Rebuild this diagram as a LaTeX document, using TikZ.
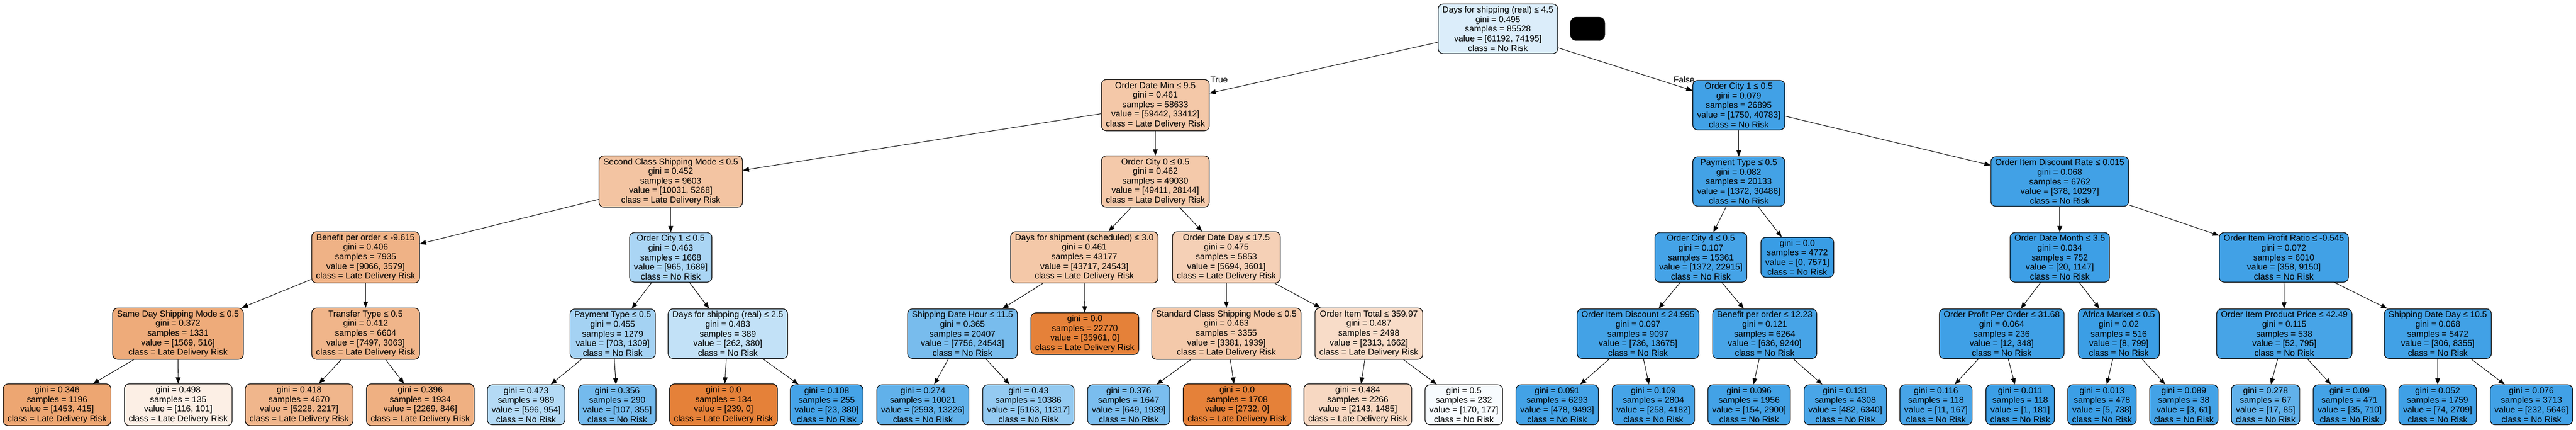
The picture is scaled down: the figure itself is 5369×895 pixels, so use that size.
\documentclass[tikz,border=0pt]{standalone}
\usepackage{fontspec}
\setmainfont{Liberation Sans}
\usetikzlibrary{arrows.meta}
\definecolor{cO}{RGB}{229,129,57}
\definecolor{cB}{RGB}{57,157,229}
\tikzset{
  tn/.style={rectangle, rounded corners=10pt, draw=black, line width=1.3pt, align=center,
    inner xsep=9pt, inner ysep=5pt, font=\fontsize{18}{20}\selectfont},
  ed/.style={-{Triangle[length=13pt,width=10pt]}, line width=1.1pt},
  lbl/.style={font=\fontsize{18}{20}\selectfont, inner sep=0pt},
}
\begin{document}
\begin{tikzpicture}[x=1pt,y=-1pt]
\useasboundingbox (0,0) rectangle (5369,895);
% level 0
\node[tn, fill=cB!18] (root) at (3122,60) {Days for shipping (real) ≤ 4.5\\gini = 0.495\\samples = 85528\\value = [61192, 74195]\\class = No Risk};
\node[rectangle, rounded corners=12pt, fill=black, draw=black, minimum width=72pt, minimum height=49pt, inner sep=0pt] (blk) at (3309,60) {};
% level 1
\node[tn, fill=cO!44] (n1) at (2408,219) {Order Date Min ≤ 9.5\\gini = 0.461\\samples = 58633\\value = [59442, 33412]\\class = Late Delivery Risk};
\node[tn, fill=cB!96] (n2) at (3624,219) {Order City 1 ≤ 0.5\\gini = 0.079\\samples = 26895\\value = [1750, 40783]\\class = No Risk};
% level 2
\node[tn, fill=cO!47] (n3) at (1398,378) {Second Class Shipping Mode ≤ 0.5\\gini = 0.452\\samples = 9603\\value = [10031, 5268]\\class = Late Delivery Risk};
\node[tn, fill=cO!43] (n4) at (2408,378) {Order City 0 ≤ 0.5\\gini = 0.462\\samples = 49030\\value = [49411, 28144]\\class = Late Delivery Risk};
\node[tn, fill=cB!95] (n5) at (3624,378) {Payment Type ≤ 0.5\\gini = 0.082\\samples = 20133\\value = [1372, 30486]\\class = No Risk};
\node[tn, fill=cB!96] (n6) at (4293,378) {Order Item Discount Rate ≤ 0.015\\gini = 0.068\\samples = 6762\\value = [378, 10297]\\class = No Risk};
% level 3
\node[tn, fill=cO!61] (n7) at (762,536) {Benefit per order ≤ -9.615\\gini = 0.406\\samples = 7935\\value = [9066, 3579]\\class = Late Delivery Risk};
\node[tn, fill=cB!43] (n8) at (1398,536) {Order City 1 ≤ 0.5\\gini = 0.463\\samples = 1668\\value = [965, 1689]\\class = No Risk};
\node[tn, fill=cO!44] (n9) at (2260,536) {Days for shipment (scheduled) ≤ 3.0\\gini = 0.461\\samples = 43177\\value = [43717, 24543]\\class = Late Delivery Risk};
\node[tn, fill=cO!37] (n10) at (2556,536) {Order Date Day ≤ 17.5\\gini = 0.475\\samples = 5853\\value = [5694, 3601]\\class = Late Delivery Risk};
\node[tn, fill=cB!94] (n11) at (3545,536) {Order City 4 ≤ 0.5\\gini = 0.107\\samples = 15361\\value = [1372, 22915]\\class = No Risk};
\node[tn, fill=cB!100] (n12) at (3746,536) {gini = 0.0\\samples = 4772\\value = [0, 7571]\\class = No Risk};
\node[tn, fill=cB!98] (n13) at (4293,536) {Order Date Month ≤ 3.5\\gini = 0.034\\samples = 752\\value = [20, 1147]\\class = No Risk};
\node[tn, fill=cB!96] (n14) at (4760,536) {Order Item Profit Ratio ≤ -0.545\\gini = 0.072\\samples = 6010\\value = [358, 9150]\\class = No Risk};
% level 4
\node[tn, fill=cO!67] (n15) at (371,695) {Same Day Shipping Mode ≤ 0.5\\gini = 0.372\\samples = 1331\\value = [1569, 516]\\class = Late Delivery Risk};
\node[tn, fill=cO!59] (n16) at (762,695) {Transfer Type ≤ 0.5\\gini = 0.412\\samples = 6604\\value = [7497, 3063]\\class = Late Delivery Risk};
\node[tn, fill=cB!46] (n17) at (1277,695) {Payment Type ≤ 0.5\\gini = 0.455\\samples = 1279\\value = [703, 1309]\\class = No Risk};
\node[tn, fill=cB!31] (n18) at (1517,695) {Days for shipping (real) ≤ 2.5\\gini = 0.483\\samples = 389\\value = [262, 380]\\class = No Risk};
\node[tn, fill=cB!68] (n19) at (2006,695) {Shipping Date Hour ≤ 11.5\\gini = 0.365\\samples = 20407\\value = [7756, 24543]\\class = No Risk};
\node[tn, fill=cO!100] (n20) at (2261,695) {gini = 0.0\\samples = 22770\\value = [35961, 0]\\class = Late Delivery Risk};
\node[tn, fill=cO!43] (n21) at (2556,695) {Standard Class Shipping Mode ≤ 0.5\\gini = 0.463\\samples = 3355\\value = [3381, 1939]\\class = Late Delivery Risk};
\node[tn, fill=cO!28] (n22) at (2853,695) {Order Item Total ≤ 359.97\\gini = 0.487\\samples = 2498\\value = [2313, 1662]\\class = Late Delivery Risk};
\node[tn, fill=cB!95] (n23) at (3414,695) {Order Item Discount ≤ 24.995\\gini = 0.097\\samples = 9097\\value = [736, 13675]\\class = No Risk};
\node[tn, fill=cB!93] (n24) at (3678,695) {Benefit per order ≤ 12.23\\gini = 0.121\\samples = 6264\\value = [636, 9240]\\class = No Risk};
\node[tn, fill=cB!97] (n25) at (4172,695) {Order Profit Per Order ≤ 31.68\\gini = 0.064\\samples = 236\\value = [12, 348]\\class = No Risk};
\node[tn, fill=cB!99] (n26) at (4416,695) {Africa Market ≤ 0.5\\gini = 0.02\\samples = 516\\value = [8, 799]\\class = No Risk};
\node[tn, fill=cB!93] (n27) at (4761,695) {Order Item Product Price ≤ 42.49\\gini = 0.115\\samples = 538\\value = [52, 795]\\class = No Risk};
\node[tn, fill=cB!96] (n28) at (5081,695) {Shipping Date Day ≤ 10.5\\gini = 0.068\\samples = 5472\\value = [306, 8355]\\class = No Risk};
% level 5
\node[tn, fill=cO!71] (l1) at (119,843) {gini = 0.346\\samples = 1196\\value = [1453, 415]\\class = Late Delivery Risk};
\node[tn, fill=cO!13] (l2) at (371.5,843) {gini = 0.498\\samples = 135\\value = [116, 101]\\class = Late Delivery Risk};
\node[tn, fill=cO!58] (l3) at (623.5,843) {gini = 0.418\\samples = 4670\\value = [5228, 2217]\\class = Late Delivery Risk};
\node[tn, fill=cO!63] (l4) at (876,843) {gini = 0.396\\samples = 1934\\value = [2269, 846]\\class = Late Delivery Risk};
\node[tn, fill=cB!38] (l5) at (1096.5,843) {gini = 0.473\\samples = 989\\value = [596, 954]\\class = No Risk};
\node[tn, fill=cB!70] (l6) at (1286.5,843) {gini = 0.356\\samples = 290\\value = [107, 355]\\class = No Risk};
\node[tn, fill=cO!100] (l7) at (1508,843) {gini = 0.0\\samples = 134\\value = [239, 0]\\class = Late Delivery Risk};
\node[tn, fill=cB!94] (l8) at (1723,843) {gini = 0.108\\samples = 255\\value = [23, 380]\\class = No Risk};
\node[tn, fill=cB!80] (l9) at (1923.5,843) {gini = 0.274\\samples = 10021\\value = [2593, 13226]\\class = No Risk};
\node[tn, fill=cB!54] (l10) at (2143.5,843) {gini = 0.43\\samples = 10386\\value = [5163, 11317]\\class = No Risk};
\node[tn, fill=cB!67] (l11) at (2352.5,843) {gini = 0.376\\samples = 1647\\value = [649, 1939]\\class = No Risk};
\node[tn, fill=cO!100] (l12) at (2578.5,843) {gini = 0.0\\samples = 1708\\value = [2732, 0]\\class = Late Delivery Risk};
\node[tn, fill=cO!31] (l13) at (2830,843) {gini = 0.484\\samples = 2266\\value = [2143, 1485]\\class = Late Delivery Risk};
\node[tn, fill=cB!4] (l14) at (3051,843) {gini = 0.5\\samples = 232\\value = [170, 177]\\class = No Risk};
\node[tn, fill=cB!95] (l15) at (3245.5,843) {gini = 0.091\\samples = 6293\\value = [478, 9493]\\class = No Risk};
\node[tn, fill=cB!94] (l16) at (3446,843) {gini = 0.109\\samples = 2804\\value = [258, 4182]\\class = No Risk};
\node[tn, fill=cB!95] (l17) at (3645.5,843) {gini = 0.096\\samples = 1956\\value = [154, 2900]\\class = No Risk};
\node[tn, fill=cB!92] (l18) at (3846,843) {gini = 0.131\\samples = 4308\\value = [482, 6340]\\class = No Risk};
\node[tn, fill=cB!93] (l19) at (4035,843) {gini = 0.116\\samples = 118\\value = [11, 167]\\class = No Risk};
\node[tn, fill=cB!99] (l20) at (4210.5,843) {gini = 0.011\\samples = 118\\value = [1, 181]\\class = No Risk};
\node[tn, fill=cB!99] (l21) at (4381,843) {gini = 0.013\\samples = 478\\value = [5, 738]\\class = No Risk};
\node[tn, fill=cB!95] (l22) at (4551.5,843) {gini = 0.089\\samples = 38\\value = [3, 61]\\class = No Risk};
\node[tn, fill=cB!80] (l23) at (4722,843) {gini = 0.278\\samples = 67\\value = [17, 85]\\class = No Risk};
\node[tn, fill=cB!95] (l24) at (4897,843) {gini = 0.09\\samples = 471\\value = [35, 710]\\class = No Risk};
\node[tn, fill=cB!97] (l25) at (5080.5,843) {gini = 0.052\\samples = 1759\\value = [74, 2709]\\class = No Risk};
\node[tn, fill=cB!96] (l26) at (5276,843) {gini = 0.076\\samples = 3713\\value = [232, 5646]\\class = No Risk};
% edge labels
\node[lbl] (tlab) at (2541,166) {True};
\node[lbl] (flab) at (3510,166) {False};
% edges
\draw[ed] (root) -- (n1);
\draw[ed] (root) -- (n2);
\draw[ed] (n1) -- (n3);
\draw[ed] (n1) -- (n4);
\draw[ed] (n2) -- (n5);
\draw[ed] (n2) -- (n6);
\draw[ed] (n3) -- (n7);
\draw[ed] (n3) -- (n8);
\draw[ed] (n4) -- (n9);
\draw[ed] (n4) -- (n10);
\draw[ed] (n5) -- (n11);
\draw[ed] (n5) -- (n12);
\draw[ed] (n6) -- (n13);
\draw[ed] (n6) -- (n14);
\draw[ed] (n7) -- (n15);
\draw[ed] (n7) -- (n16);
\draw[ed] (n8) -- (n17);
\draw[ed] (n8) -- (n18);
\draw[ed] (n9) -- (n19);
\draw[ed] (n9) -- (n20);
\draw[ed] (n10) -- (n21);
\draw[ed] (n10) -- (n22);
\draw[ed] (n11) -- (n23);
\draw[ed] (n11) -- (n24);
\draw[ed] (n13) -- (n25);
\draw[ed] (n13) -- (n26);
\draw[ed] (n14) -- (n27);
\draw[ed] (n14) -- (n28);
\draw[ed] (n15) -- (l1);
\draw[ed] (n15) -- (l2);
\draw[ed] (n16) -- (l3);
\draw[ed] (n16) -- (l4);
\draw[ed] (n17) -- (l5);
\draw[ed] (n17) -- (l6);
\draw[ed] (n18) -- (l7);
\draw[ed] (n18) -- (l8);
\draw[ed] (n19) -- (l9);
\draw[ed] (n19) -- (l10);
\draw[ed] (n21) -- (l11);
\draw[ed] (n21) -- (l12);
\draw[ed] (n22) -- (l13);
\draw[ed] (n22) -- (l14);
\draw[ed] (n23) -- (l15);
\draw[ed] (n23) -- (l16);
\draw[ed] (n24) -- (l17);
\draw[ed] (n24) -- (l18);
\draw[ed] (n25) -- (l19);
\draw[ed] (n25) -- (l20);
\draw[ed] (n26) -- (l21);
\draw[ed] (n26) -- (l22);
\draw[ed] (n27) -- (l23);
\draw[ed] (n27) -- (l24);
\draw[ed] (n28) -- (l25);
\draw[ed] (n28) -- (l26);
\end{tikzpicture}
\end{document}
